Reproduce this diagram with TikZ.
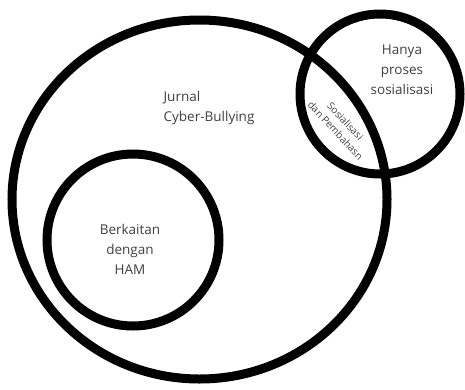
\documentclass[tikz,border=0pt]{standalone}
\usepackage{fontspec}
\setmainfont{Open Sans}
\usetikzlibrary{shapes.geometric}

\begin{document}
\begin{tikzpicture}[x=1pt,y=-1pt,
  set/.style={draw,line width=9pt,inner sep=0pt},
  txt/.style={text=black!75,align=center,font=\fontsize{13.5}{20}\selectfont}]

\useasboundingbox (0,0) rectangle (465,389);

\node[set,ellipse,minimum width=375pt,minimum height=359pt] (jurnal) at (199.5,199.5) {};
\node[set,circle,minimum size=172pt] (ham) at (133,240) {};
\node[set,circle,minimum size=160pt] (sos) at (380,94) {};

\node[txt,align=left] (tjurnal) at (209,108) {Jurnal\\Cyber-Bullying};
\node[txt] (tham) at (130,249) {Berkaitan\\dengan\\HAM};
\node[txt] (tsos) at (402,70) {Hanya\\proses\\sosialisasi};
\node[txt,rotate=-47,font=\fontsize{10}{13.5}\selectfont] (tirisan) at (340.5,126) {Sosialisasi\\dan Pembahasn};

\end{tikzpicture}
\end{document}
